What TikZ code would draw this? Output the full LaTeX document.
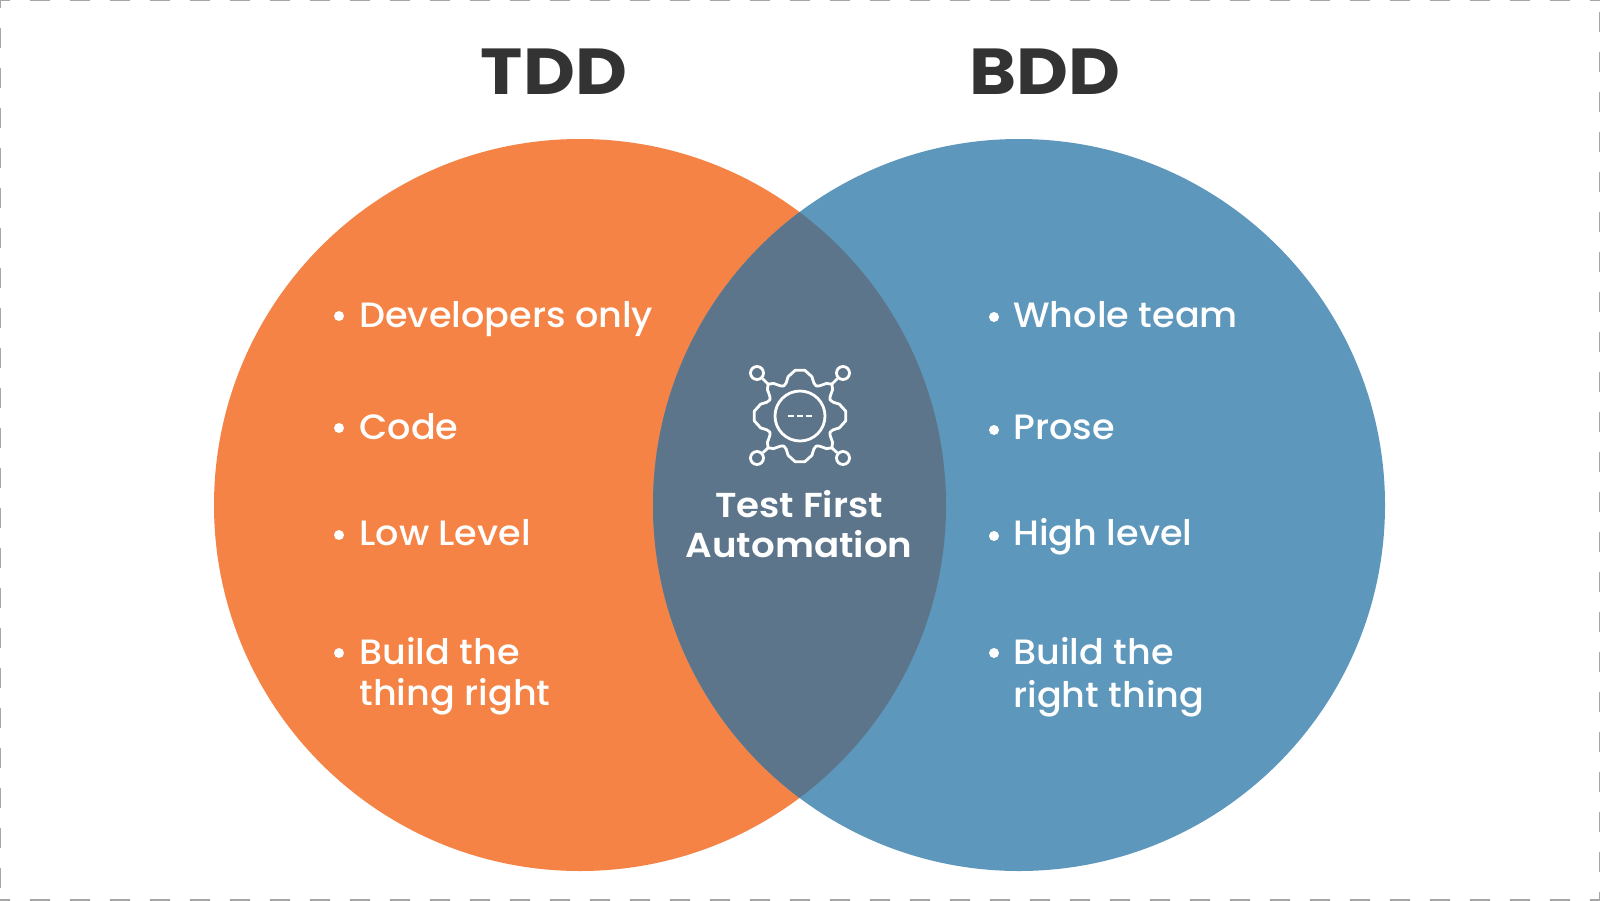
\documentclass[tikz,border=0pt]{standalone}
\usepackage{fontspec}
\setmainfont{Poppins}
\newfontfamily\itemfont[FakeStretch=1.04]{Poppins Medium}
\newfontfamily\centrefont[FakeStretch=1.075]{Poppins SemiBold}
\newfontfamily\titlefont[FakeStretch=1.1]{Poppins}[BoldFont=Poppins Bold]
\definecolor{orangeC}{HTML}{F58345}
\definecolor{blueC}{HTML}{5E97BC}
\definecolor{overlapC}{HTML}{5C758A}
\definecolor{titleC}{HTML}{333333}
\definecolor{borderC}{HTML}{A6A6A6}
\tikzset{
  title/.style={anchor=base,text=titleC,font=\fontsize{32.5}{32.5}\selectfont\titlefont\bfseries,inner sep=0pt},
  item/.style={anchor=base west,text=white,font=\fontsize{17.6}{17.6}\selectfont\itemfont,inner sep=0pt},
  centre/.style={anchor=base,text=white,font=\fontsize{17.3}{17.3}\selectfont\centrefont,inner sep=0pt},
  dot/.style={circle,fill=white,inner sep=0pt,minimum size=5pt},
  edge/.style={borderC,line width=1pt},
  icon/.style={white,line width=1.4pt,line join=round},
  knob/.style={circle,draw=white,line width=1.4pt,inner sep=0pt,minimum size=6.5pt}
}
\begin{document}
\begin{tikzpicture}[x=0.5pt,y=-0.5pt]
\useasboundingbox (0,0) rectangle (1600,900);
\fill[white] (0,0) rectangle (1600,900);
% border
\draw[edge,dash pattern=on 10pt off 10pt,dash phase=5pt] (0,0) -- (1600,0);
\draw[edge,dash pattern=on 10pt off 10pt,dash phase=5pt] (0,900) -- (1600,900);
\draw[edge,dash pattern=on 10pt off 10pt,dash phase=6pt] (0,0) -- (0,900);
\draw[edge,dash pattern=on 10pt off 10pt,dash phase=14pt] (1600,0) -- (1600,900);
% circles
\fill[orangeC] (580,505) circle[radius=366];
\fill[blueC] (1019,505) circle[radius=366];
\begin{scope}
\clip (580,505) circle[radius=366];
\fill[overlapC] (1019,505) circle[radius=366];
\end{scope}
% titles
\node[title] (tdd) at (554,94) {TDD};
\node[title] (bdd) at (1045,94) {BDD};
% left list
\node[dot] (l1) at (339,316) {};
\node[dot] (l2) at (339,428) {};
\node[dot] (l3) at (339,535) {};
\node[dot] (l4) at (339,653) {};
\node[item] (lt1) at (359,327) {Developers only};
\node[item] (lt2) at (359,439) {Code};
\node[item] (lt3) at (359,545) {Low Level};
\node[item] (lt4) at (359,664) {Build the};
\node[item] (lt5) at (359,705) {thing right};
% right list
\node[dot] (r1) at (994,317) {};
\node[dot] (r2) at (994,430) {};
\node[dot] (r3) at (994,536) {};
\node[dot] (r4) at (994,653) {};
\node[item] (rt1) at (1013,327) {Whole team};
\node[item] (rt2) at (1013,439) {Prose};
\node[item] (rt3) at (1013,545) {High level};
\node[item] (rt4) at (1013,664) {Build the};
\node[item] (rt5) at (1013,707) {right thing};
% centre
\node[centre] (c1) at (799,517) {Test First};
\node[centre] (c2) at (799,557) {Automation};
% icon
\begin{scope}[shift={(800,416)}]
\draw[icon] (0,0) circle[radius=25];
\draw[icon,dash pattern=on 3.3pt off 1.25pt] (-12.5,0) -- (12.5,0);
\draw[icon] (84:46)
  \foreach \a in {90,180,270,360}{
    -- (\a-6:46+0) -- (\a+6:46) -- (\a+17:41)
    .. controls (\a+28:32) .. (\a+39:42)
    -- (\a+45:45)
    -- (\a+51:42)
    .. controls (\a+62:32) .. (\a+73:41)
  } -- cycle;
\node[knob] (k1) at (-43,-43) {};
\node[knob] (k2) at (43,-43) {};
\node[knob] (k3) at (-43,42) {};
\node[knob] (k4) at (43,42) {};
\coordinate (t1) at (-32,-32);
\coordinate (t2) at (32,-32);
\coordinate (t3) at (-32,32);
\coordinate (t4) at (32,32);
\draw[icon] (k1) -- (t1);
\draw[icon] (k2) -- (t2);
\draw[icon] (k3) -- (t3);
\draw[icon] (k4) -- (t4);
\end{scope}
\end{tikzpicture}
\end{document}
